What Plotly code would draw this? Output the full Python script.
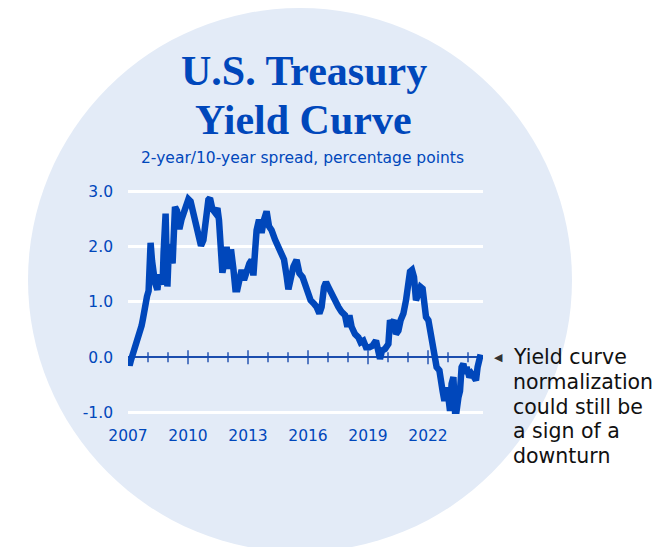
import plotly.graph_objects as go

# 2-year/10-year Treasury spread (percentage points), by decimal year
years = [
    2007.02, 2007.08, 2007.15, 2007.27, 2007.35, 2007.43, 2007.52, 2007.60, 2007.68, 2007.75,
    2007.85, 2007.95, 2008.03, 2008.10, 2008.13, 2008.20, 2008.27, 2008.35, 2008.47, 2008.55,
    2008.65, 2008.73, 2008.78, 2008.82, 2008.88, 2008.93, 2008.97, 2009.05, 2009.12, 2009.23,
    2009.30, 2009.35, 2009.45, 2009.57, 2009.68, 2009.77, 2009.90, 2010.02, 2010.13, 2010.27,
    2010.40, 2010.53, 2010.65, 2010.77, 2010.90, 2011.02, 2011.10, 2011.22, 2011.35, 2011.47,
    2011.55, 2011.65, 2011.72, 2011.82, 2011.93, 2012.05, 2012.15, 2012.27, 2012.37, 2012.47,
    2012.57, 2012.68, 2012.80, 2012.93, 2013.07, 2013.18, 2013.27, 2013.35, 2013.43, 2013.55,
    2013.68, 2013.80, 2013.93, 2014.05, 2014.18, 2014.35, 2014.52, 2014.68, 2014.80, 2014.93,
    2015.02, 2015.13, 2015.27, 2015.43, 2015.57, 2015.73, 2015.90, 2016.02, 2016.13, 2016.30,
    2016.43, 2016.57, 2016.68, 2016.80, 2016.90, 2017.02, 2017.18, 2017.35, 2017.52, 2017.68,
    2017.85, 2017.97, 2018.07, 2018.18, 2018.35, 2018.52, 2018.63, 2018.77, 2018.90, 2019.07,
    2019.23, 2019.40, 2019.52, 2019.60, 2019.70, 2019.85, 2020.02, 2020.10, 2020.18, 2020.30,
    2020.40, 2020.52, 2020.63, 2020.77, 2020.90, 2021.02, 2021.10, 2021.20, 2021.30, 2021.40,
    2021.52, 2021.63, 2021.73, 2021.80, 2021.90, 2022.02, 2022.13, 2022.23, 2022.35, 2022.43,
    2022.57, 2022.63, 2022.73, 2022.82, 2022.90, 2023.02, 2023.10, 2023.18, 2023.27, 2023.35,
    2023.43, 2023.52, 2023.60, 2023.68, 2023.77, 2023.85, 2023.93, 2024.07, 2024.18, 2024.30,
    2024.40, 2024.48, 2024.57, 2024.63,
]
spread = [
    -0.02, -0.15, -0.05, 0.09, 0.12, 0.22, 0.35, 0.47, 0.57, 0.70,
    1.00, 1.10, 1.20, 1.70, 2.07, 1.75, 1.55, 1.35, 1.22, 1.50,
    1.40, 1.32, 1.90, 2.55, 2.60, 1.80, 1.28, 2.05, 1.95, 1.70,
    2.30, 2.72, 2.65, 2.32, 2.50, 2.60, 2.78, 2.86, 2.82, 2.60,
    2.43, 2.30, 2.02, 2.12, 2.60, 2.85, 2.88, 2.68, 2.62, 2.70,
    2.48, 1.90, 1.53, 1.72, 2.00, 1.60, 1.95, 1.60, 1.23, 1.23,
    1.47, 1.58, 1.40, 1.58, 1.70, 1.76, 1.48, 1.90, 2.30, 2.49,
    2.25, 2.49, 2.64, 2.37, 2.30, 2.13, 2.00, 1.93, 1.77, 1.47,
    1.23, 1.41, 1.64, 1.76, 1.52, 1.45, 1.27, 1.09, 1.03, 0.97,
    0.91, 0.79, 0.91, 1.27, 1.36, 1.27, 1.15, 0.97, 0.91, 0.82,
    0.76, 0.55, 0.76, 0.55, 0.42, 0.36, 0.27, 0.30, 0.18, 0.18,
    0.21, 0.30, 0.12, -0.03, 0.12, 0.15, 0.24, 0.67, 0.61, 0.67,
    0.42, 0.48, 0.67, 0.79, 1.03, 1.33, 1.55, 1.58, 1.45, 1.03,
    1.15, 1.27, 1.24, 0.97, 0.73, 0.67, 0.42, 0.30, 0.00, -0.18,
    -0.24, -0.48, -0.61, -0.79, -0.55, -0.73, -0.97, -0.48, -0.36, -0.97,
    -0.97, -0.73, -0.61, -0.18, -0.12, -0.30, -0.18, -0.36, -0.30, -0.36,
    -0.42, -0.18, 0.00, 0.05,
]

x_tick_years = [2007, 2010, 2013, 2016, 2019, 2022]
x_tick_labels = ["2007", "2010", "2013", "2016", "2019", "2022"]
y_tick_values = [-1, 0, 1, 2, 3]
y_tick_labels = ["-1.0", "0.0", "1.0", "2.0", "3.0"]

# yearly marks along the zero line; every third year is drawn longer
year_marks = list(range(2008, 2025))
year_mark_sizes = [10 if (y - 2007) % 3 == 0 else 7 for y in year_marks]

x_range = [2007, 2024.75]
y_range = [-1.136, 3.208]

BLUE = "#0047BB"
AXIS_BLUE = "#1B4DAE"
DISC = "#E3EBF7"
SANS = "DejaVu Sans"
SERIF = "Liberation Serif"

W, H = 656, 547
L, R, T, B = 128, 173, 180, 127
PW, PH = W - L - R, H - T - B


def px(x):
    return (x - L) / PW


def py(y):
    return (H - B - y) / PH


fig = go.Figure()

fig.add_trace(go.Scatter(
    x=year_marks, y=[0] * len(year_marks), mode="markers",
    marker=dict(symbol="line-ns", size=year_mark_sizes,
                line=dict(width=2, color=AXIS_BLUE)),
    hoverinfo="skip", showlegend=False,
))

fig.add_trace(go.Scatter(
    x=years, y=spread, mode="lines",
    line=dict(color=BLUE, width=6.5, shape="linear"),
    hoverinfo="skip", showlegend=False,
))

# background disc
fig.add_shape(type="circle", xref="paper", yref="paper",
              x0=px(28), x1=px(572), y0=py(552), y1=py(8),
              fillcolor=DISC, line=dict(width=0), layer="below")

annotations = [
    dict(text="<b>U.S. Treasury</b>", x=px(304), y=py(71),
         font=dict(family=SERIF, size=42, color=BLUE)),
    dict(text="<b>Yield Curve</b>", x=px(303), y=py(120),
         font=dict(family=SERIF, size=42, color=BLUE)),
    dict(text="2-year/10-year spread, percentage points", x=px(302), y=py(158),
         font=dict(family=SANS, size=15.5, color=BLUE)),
    dict(text="◀", x=px(498), y=py(357),
         font=dict(family=SANS, size=11, color="#333333")),
]
note_lines = ["Yield curve", "normalization", "could still be", "a sign of a", "downturn"]
for i, line in enumerate(note_lines):
    annotations.append(dict(text=line, x=px(511), y=py(357 + 24.8 * i), xanchor="left",
                            font=dict(family=SANS, size=20.5, color="#111111")))
for a in annotations:
    a.setdefault("xanchor", "center")
    a.update(xref="paper", yref="paper", yanchor="middle", showarrow=False)

fig.update_layout(
    width=W, height=H,
    margin=dict(l=L, r=R, t=T, b=B, pad=0),
    paper_bgcolor="white", plot_bgcolor="rgba(0,0,0,0)",
    annotations=annotations,
    xaxis=dict(range=x_range, showgrid=False, zeroline=False, showline=False,
               tickvals=x_tick_years, ticktext=x_tick_labels, ticks="",
               ticklabelstandoff=4,
               tickfont=dict(family=SANS, size=15.5, color=BLUE)),
    yaxis=dict(range=y_range, showgrid=True, gridcolor="white", gridwidth=2.5,
               zeroline=True, zerolinecolor=AXIS_BLUE, zerolinewidth=2,
               showline=False, tickvals=y_tick_values, ticktext=y_tick_labels,
               ticks="", ticklabelstandoff=14,
               tickfont=dict(family=SANS, size=15.5, color=BLUE)),
)

fig.write_html("out.html")
